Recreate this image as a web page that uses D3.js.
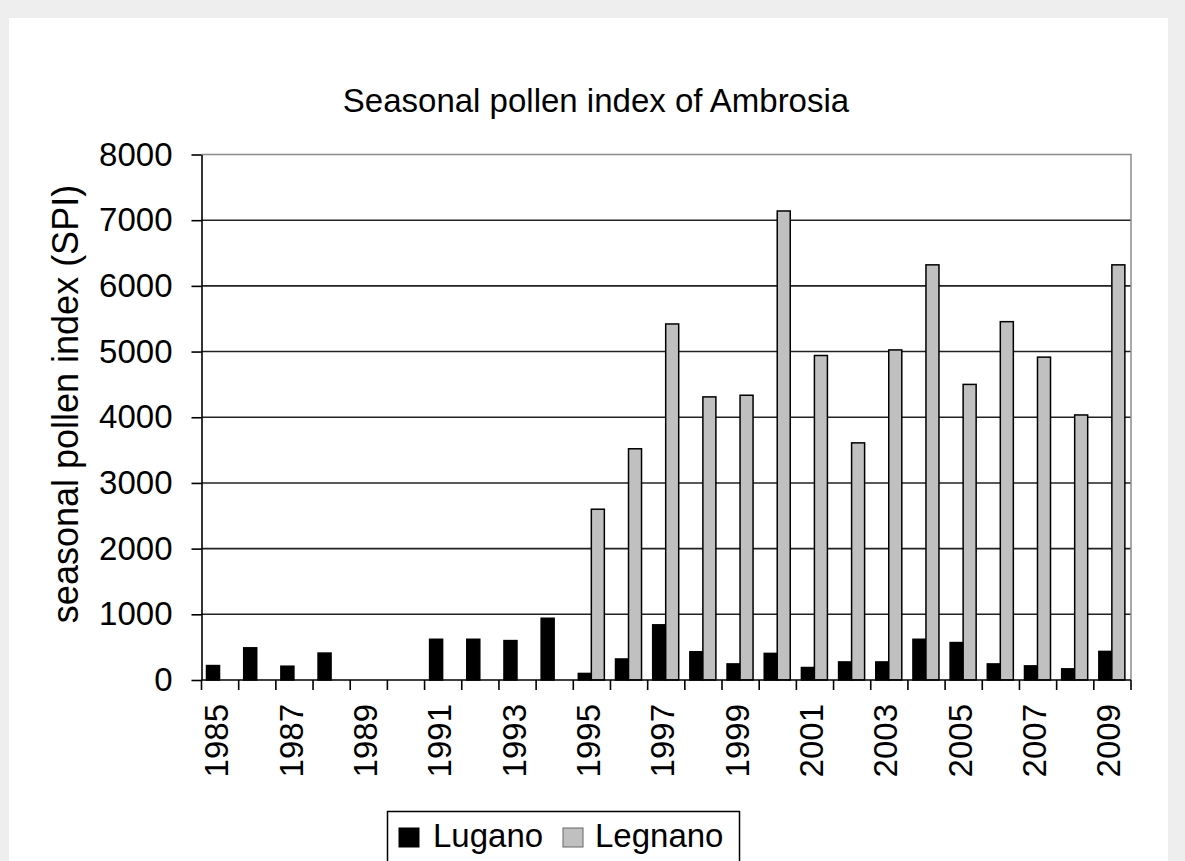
<!DOCTYPE html>
<html>
<head>
<meta charset="utf-8">
<script src="https://cdn.jsdelivr.net/npm/d3@7"></script>
<style>
  html, body { margin: 0; padding: 0; background: #eeeeee; }
  svg { display: block; font-family: "Liberation Sans", Arial, sans-serif; }
</style>
</head>
<body>
<div id="chart"></div>
<script>
// categories and values
var years = ["1985","1986","1987","1988","1989","1990","1991","1992","1993","1994",
             "1995","1996","1997","1998","1999","2000","2001","2002","2003","2004",
             "2005","2006","2007","2008","2009"];
var seriesNames = ["Lugano", "Legnano"];
var lugano  = [220, 490, 210, 410, null, null, 620, 620, 600, 940,
               100, 320, 840, 430, 245, 405, 190, 275, 275, 620,
               570, 245, 215, 170, 435];
var legnano = [null, null, null, null, null, null, null, null, null, null,
               2600, 3520, 5420, 4310, 4335, 7140, 4940, 3610, 5025, 6320,
               4500, 5455, 4915, 4035, 6320];
var yTicks = [0, 1000, 2000, 3000, 4000, 5000, 6000, 7000, 8000];
var colors = {"Lugano": "#000000", "Legnano": "#c0c0c0"};

var W = 1185, H = 861;
var plot = {left: 201.5, right: 1131, top: 154.5, bottom: 680};

var svg = d3.select("#chart")
    .append("svg")
        .attr("width", W)
        .attr("height", H);

// grey frame and white panel
svg.append("rect")
    .attr("x", 0).attr("y", 0).attr("width", W).attr("height", H)
    .style("fill", "#eeeeee");
svg.append("rect")
    .attr("x", 9).attr("y", 18).attr("width", 1159).attr("height", H - 18)
    .style("fill", "#ffffff");

var x = d3.scaleBand()
    .domain(years)
    .range([plot.left, plot.right])
    .padding(0);

var x1 = d3.scaleBand()
    .domain(seriesNames)
    .range([x.step() * 0.135, x.step() * 0.835])
    .padding(0);

var y = d3.scaleLinear()
    .domain([0, 8000])
    .range([plot.bottom, plot.top]);

// title
svg.append("text")
    .attr("x", 596)
    .attr("y", 112)
    .attr("text-anchor", "middle")
    .style("font-size", "33px")
    .style("fill", "#000")
    .text("Seasonal pollen index of Ambrosia");

// gridlines
svg.append("g")
    .selectAll("line")
    .data(yTicks.filter(function(d){ return d > 0 && d < 8000; }))
    .enter()
    .append("line")
        .attr("x1", plot.left)
        .attr("x2", plot.right)
        .attr("y1", function(d){ return y(d); })
        .attr("y2", function(d){ return y(d); })
        .style("stroke", "#222")
        .style("stroke-width", 1.6);

// plot area border (top / right)
svg.append("path")
    .attr("d", "M" + plot.left + "," + plot.top + "H" + plot.right + "V" + plot.bottom)
    .style("fill", "none")
    .style("stroke", "#8c8c8c")
    .style("stroke-width", 1.5);

// bars
var rows = [];
years.forEach(function(yr, i) {
    rows.push({year: yr, series: "Lugano", value: lugano[i]});
    rows.push({year: yr, series: "Legnano", value: legnano[i]});
});

svg.append("g")
    .selectAll("rect")
    .data(rows.filter(function(d){ return d.value != null; }))
    .enter()
    .append("rect")
        .attr("x", function(d){ return x(d.year) + x1(d.series); })
        .attr("y", function(d){ return y(d.value); })
        .attr("width", x1.bandwidth())
        .attr("height", function(d){ return plot.bottom - y(d.value); })
        .style("fill", function(d){ return colors[d.series]; })
        .style("stroke", "#000")
        .style("stroke-width", 1.5);

// y axis
var yAxis = svg.append("g")
    .attr("transform", "translate(" + plot.left + ",0)")
    .call(d3.axisLeft(y)
        .tickValues(yTicks)
        .tickFormat(d3.format("d"))
        .tickSize(10)
        .tickPadding(19)
        .tickSizeOuter(0));
yAxis.select(".domain").style("stroke", "#000").style("stroke-width", 1.6);
yAxis.selectAll(".tick line").style("stroke", "#000").style("stroke-width", 1.6);
yAxis.selectAll("text")
    .style("font-size", "33px")
    .style("font-family", "inherit")
    .style("fill", "#000");

// x axis: ticks on category boundaries
var xAxis = svg.append("g")
    .attr("transform", "translate(0," + plot.bottom + ")");
xAxis.append("line")
    .attr("x1", plot.left).attr("x2", plot.right)
    .style("stroke", "#000").style("stroke-width", 1.6);
xAxis.selectAll(".bound")
    .data(years.concat(["end"]))
    .enter()
    .append("line")
        .attr("class", "bound")
        .attr("x1", function(d, i){ return plot.left + i * x.step(); })
        .attr("x2", function(d, i){ return plot.left + i * x.step(); })
        .attr("y1", 0)
        .attr("y2", 10)
        .style("stroke", "#000")
        .style("stroke-width", 1.6);
xAxis.selectAll(".lab")
    .data(years.filter(function(d, i){ return i % 2 === 0; }))
    .enter()
    .append("text")
        .attr("class", "lab")
        .attr("transform", function(d){
            return "translate(" + (x(d) + x.bandwidth() / 2 - 3.5) + ",24) rotate(-90)";
        })
        .attr("dy", "0.35em")
        .attr("text-anchor", "end")
        .style("font-size", "33px")
        .style("fill", "#000")
        .text(function(d){ return d; });

// y axis title
svg.append("text")
    .attr("transform", "translate(78,404) rotate(-90)")
    .attr("text-anchor", "middle")
    .style("font-size", "36px")
    .style("fill", "#000")
    .text("seasonal pollen index (SPI)");

// legend
var legend = svg.append("g");
legend.append("rect")
    .attr("x", 387.5).attr("y", 811.5)
    .attr("width", 352).attr("height", 70)
    .style("fill", "#fff")
    .style("stroke", "#000")
    .style("stroke-width", 1.5);
var legX = [399, 563];
var legTextX = [433, 595];
seriesNames.forEach(function(s, i) {
    legend.append("rect")
        .attr("x", legX[i]).attr("y", 828)
        .attr("width", 20).attr("height", 19)
        .style("fill", colors[s])
        .style("stroke", i === 0 ? "#000" : "#666")
        .style("stroke-width", 1);
    legend.append("text")
        .attr("x", legTextX[i]).attr("y", 847)
        .style("font-size", "33px")
        .style("fill", "#000")
        .text(s);
});
</script>
</body>
</html>
